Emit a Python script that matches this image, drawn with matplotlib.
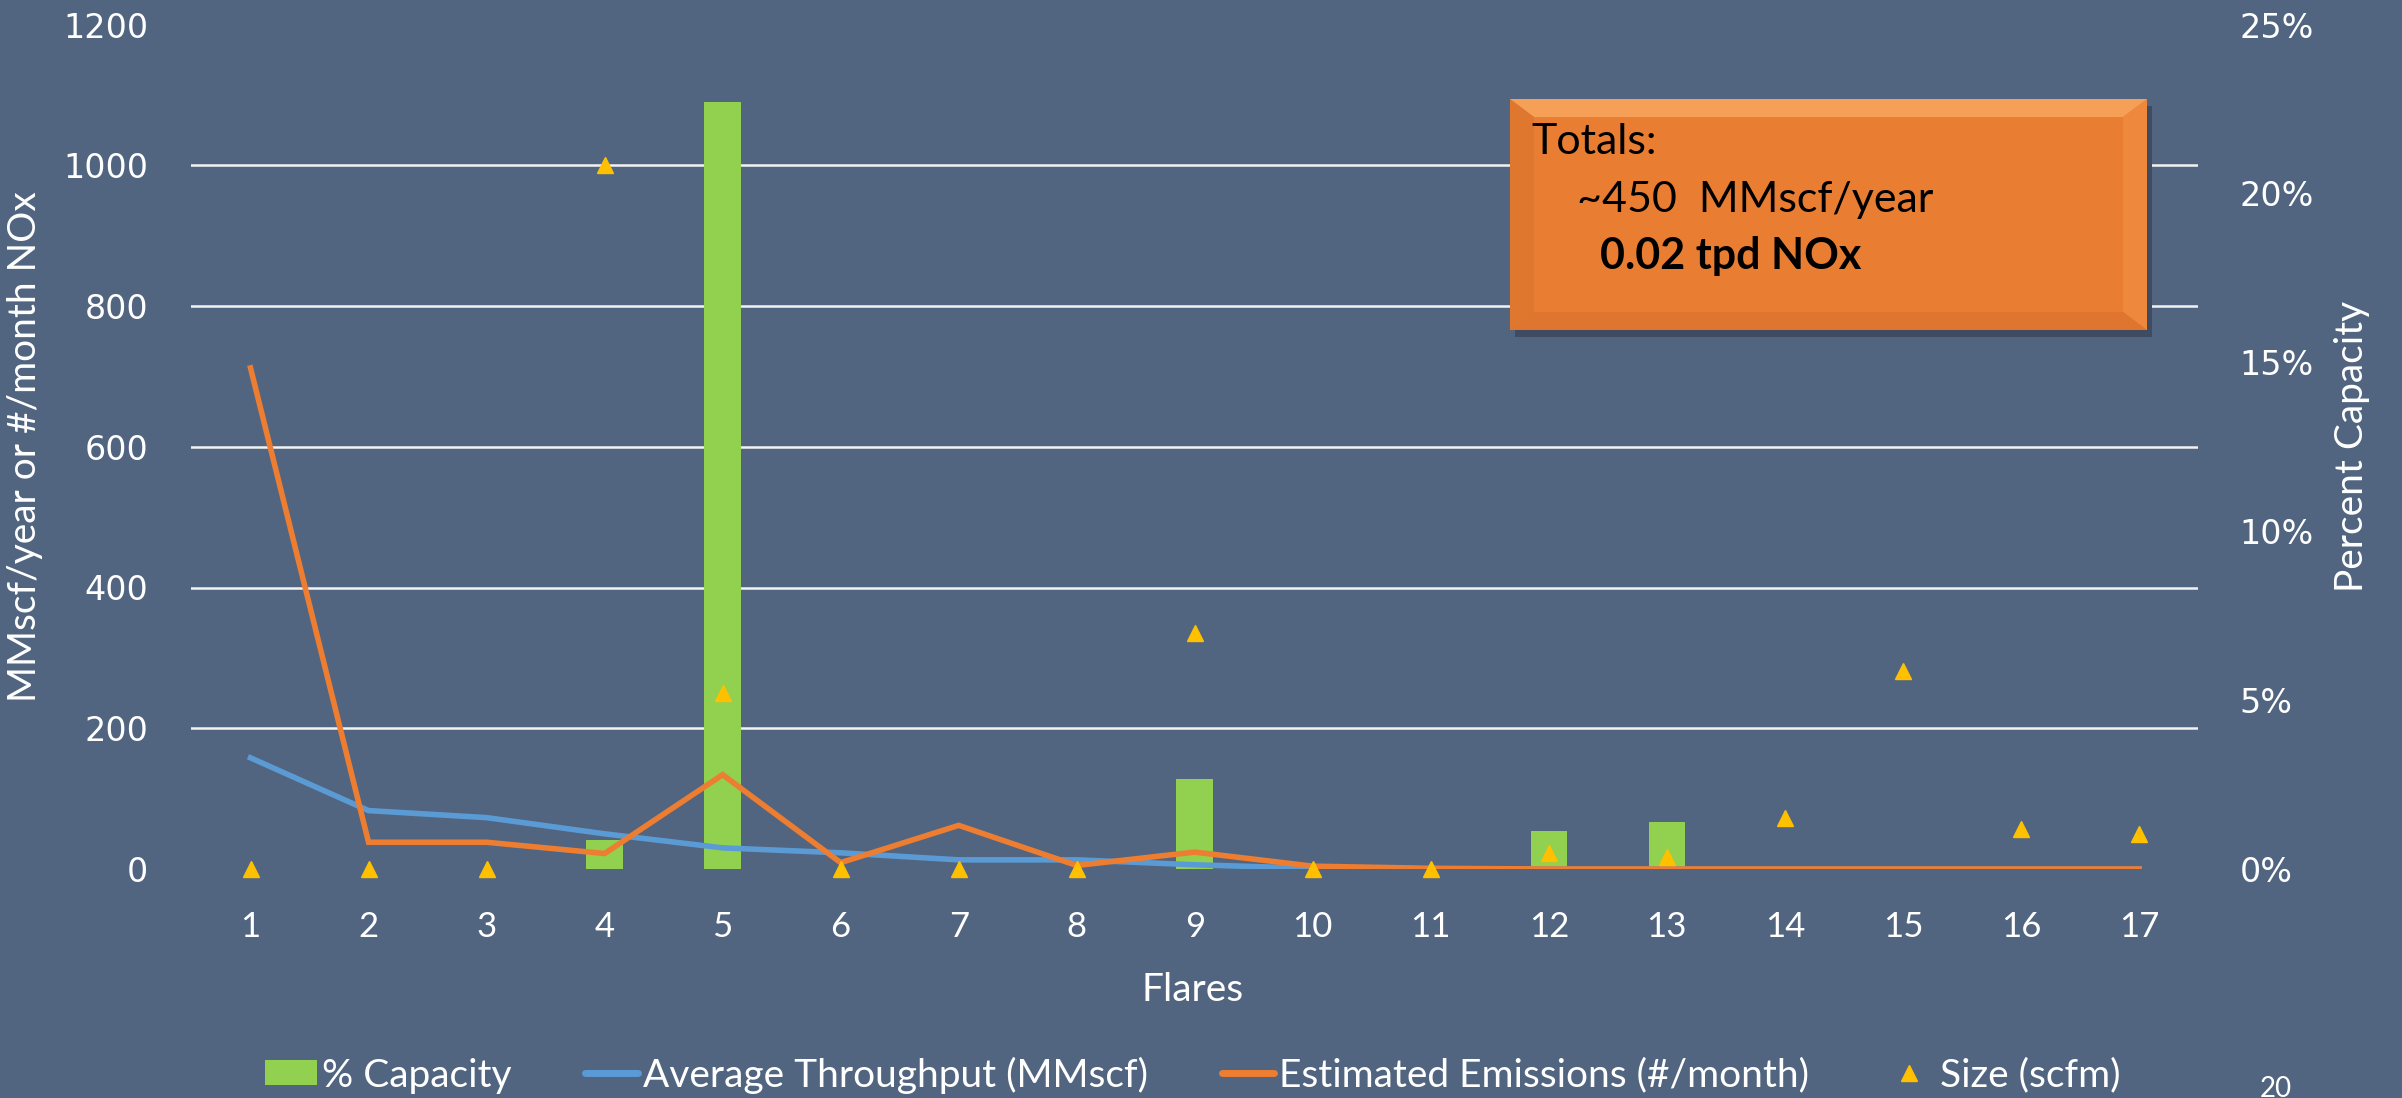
import numpy as np
import matplotlib
matplotlib.use("Agg")
import matplotlib.pyplot as plt
from matplotlib.patches import Polygon, Patch
from matplotlib.lines import Line2D
from matplotlib.ticker import FuncFormatter

# data
flares = np.arange(1, 18)
capacity_pct = [0, 0, 0, 0.85, 22.7, 0, 0, 0, 2.66, 0, 0, 1.12, 1.40, 0, 0, 0, 0]
throughput = [158, 83, 73, 50, 30, 23, 13, 13, 6, 1, 0, 0, 0, 0, 0, 0, 0]
emissions = [712, 38, 38, 22, 134, 9, 62, 5, 24, 4, 1, 0, 0, 0, 0, 0, 0]
size_scfm = [0, 0, 0, 1000, 250, 0, 0, 0, 335, 0, 0, 23, 17, 73, 281, 57, 50]

bg = '#526580'
green = '#92D050'
blue = '#5B9BD5'
orange = '#ED7D31'
gold = '#FFC000'
txt_font = 'Lato'
tick_font = 'DejaVu Sans'

W, H = 2402, 1098
fig = plt.figure(figsize=(W / 100, H / 100), dpi=100, facecolor=bg)

# plot area in pixels -> fractions
left, right, top, bottom = 191.5, 2198, 24.5, 869
ax2 = fig.add_axes([left / W, 1 - bottom / H, (right - left) / W, (bottom - top) / H])
ax1 = ax2.twinx()
ax2.yaxis.tick_right()
ax1.yaxis.tick_left()
ax1.yaxis.set_label_position('left')
ax2.yaxis.set_label_position('right')
ax1.set_zorder(ax2.get_zorder() + 1)
ax1.patch.set_visible(False)
ax2.set_facecolor(bg)

# bars on the percent axis
ax2.bar(flares, capacity_pct, width=0.31, color=green, zorder=2)
ax2.set_ylim(0, 25)
ax2.set_yticks(np.arange(0, 26, 5))
ax2.yaxis.set_major_formatter(FuncFormatter(lambda v, p: f'{v:.0f}%'))
ax2.set_yticks(np.linspace(0, 25, 7), minor=True)
ax2.grid(which='minor', axis='y', color='#F2F2F2', lw=1.8, zorder=0)
ax2.set_axisbelow(True)

# lines + markers on the main axis
ax1.plot(flares, throughput, color=blue, lw=4, solid_joinstyle='miter', zorder=3)
ax1.plot(flares, emissions, color=orange, lw=4, solid_joinstyle='miter', zorder=4)
ax1.plot(flares, size_scfm, ls='none', marker='^', ms=11.5, color=gold, zorder=5, clip_on=False)
ax1.set_ylim(0, 1200)
ax1.set_yticks(np.arange(0, 1201, 200))
ax1.set_xlim(0.5, 17.5)
ax1.set_xticks(flares)

for a in (ax1, ax2):
    for s in a.spines.values():
        s.set_visible(False)
    a.tick_params(which='both', length=0, colors='white')

ax1.tick_params(axis='y', labelsize=24, pad=31, labelfontfamily=tick_font)
ax2.tick_params(axis='y', labelsize=24, pad=30, labelfontfamily=tick_font)
ax2.tick_params(axis='x', labelsize=25, pad=30, labelfontfamily=txt_font)

ax1.set_ylabel('MMscf/year or #/month NOx', color='white', fontsize=28, family=txt_font)
ax1.yaxis.set_label_coords(-0.074, 0.5)
ax2.set_ylabel('Percent Capacity', color='white', fontsize=28, family=txt_font, rotation=90)
ax2.yaxis.set_label_coords(1.068, 0.5)
ax2.set_xlabel('Flares', color='white', fontsize=28, family=txt_font)
ax2.xaxis.set_label_coords(0.499, -0.122)

# beveled orange callout box
def fx(px):
    return px / W

def fy(py):
    return 1 - py / H

bx0, bx1, by0, by1, bvx, bvy = 1510, 2147, 99, 330, 24, 18
shadow = Polygon([(fx(bx0 + 5), fy(by0 + 7)), (fx(bx1 + 5), fy(by0 + 7)),
                  (fx(bx1 + 5), fy(by1 + 7)), (fx(bx0 + 5), fy(by1 + 7))],
                 closed=True, transform=fig.transFigure, facecolor='#3E4B61', edgecolor='none', zorder=4)
fig.add_artist(shadow)
faces = [
    ([(bx0, by0), (bx1, by0), (bx1, by1), (bx0, by1)], '#E97D32'),
    ([(bx0, by0), (bx1, by0), (bx1 - bvx, by0 + bvy), (bx0 + bvx, by0 + bvy)], '#F6A057'),
    ([(bx0, by0), (bx0 + bvx, by0 + bvy), (bx0 + bvx, by1 - bvy), (bx0, by1)], '#E0772F'),
    ([(bx1, by0), (bx1, by1), (bx1 - bvx, by1 - bvy), (bx1 - bvx, by0 + bvy)], '#EE883C'),
    ([(bx0, by1), (bx1, by1), (bx1 - bvx, by1 - bvy), (bx0 + bvx, by1 - bvy)], '#DF752E'),
]
for pts, col in faces:
    fig.add_artist(Polygon([(fx(x), fy(y)) for x, y in pts], closed=True,
                           transform=fig.transFigure, facecolor=col, edgecolor='none', zorder=5))

fig.text(fx(1531), fy(154), 'Totals:', fontsize=31, family=txt_font, color='black', va='baseline', zorder=6)
fig.text(fx(1577), fy(212), '~450  MMscf/year', fontsize=31, family=txt_font, color='black',
         va='baseline', zorder=6)
fig.text(fx(1600), fy(269), '0.02 tpd NOx', fontsize=31, family=txt_font, weight='bold', color='black',
         va='baseline', zorder=6)

# legend along the bottom
handles = [
    Patch(facecolor=green, edgecolor='none'),
    Line2D([], [], color=blue, lw=5, solid_capstyle='round'),
    Line2D([], [], color=orange, lw=5, solid_capstyle='round'),
    Line2D([], [], ls='none', marker='^', ms=11, color=gold),
]
labels = ['% Capacity', 'Average Throughput (MMscf)', 'Estimated Emissions (#/month)', 'Size (scfm)']
fig.legend(handles, labels, loc='center', bbox_to_anchor=(0.4965, 0.021), ncol=4, frameon=False,
           labelcolor='white', prop={'family': txt_font, 'size': 28},
           handlelength=1.35, handleheight=0.62, handletextpad=0.12, columnspacing=1.9)

fig.text(fx(2276), fy(1076), '20', fontsize=20, family=txt_font, color='white', ha='center', va='top')

fig.savefig('out.png', dpi=100, facecolor=bg)
